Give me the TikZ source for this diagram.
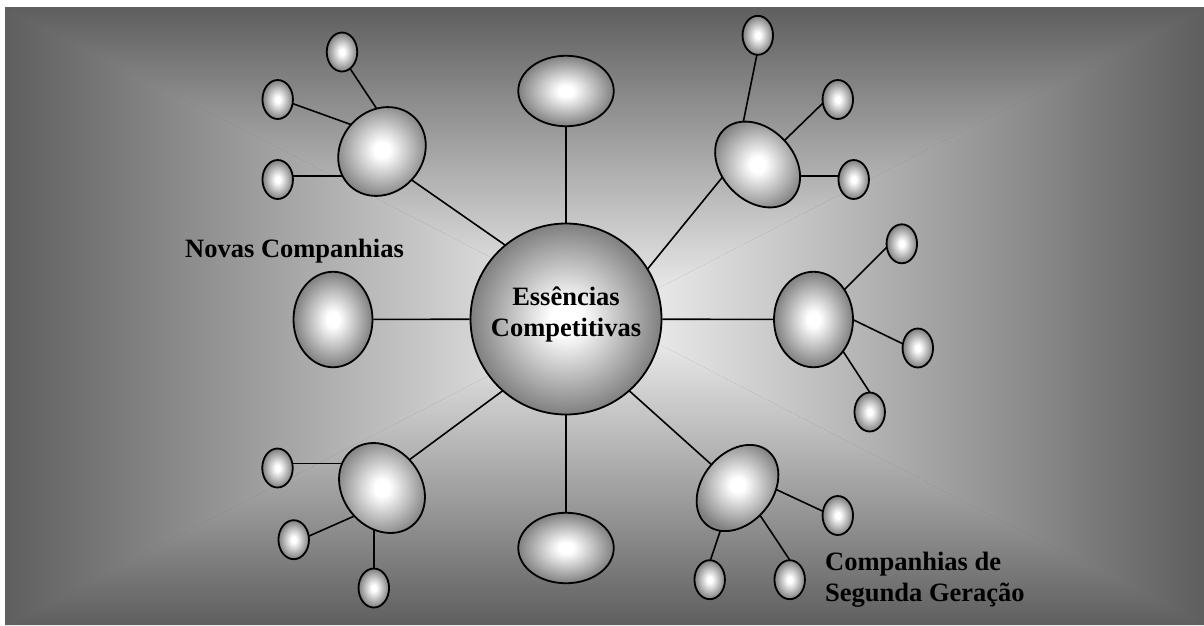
\documentclass[tikz,border=0pt]{standalone}
\usepackage{fontspec}
\setmainfont{Liberation Serif}
\usetikzlibrary{shapes.geometric}
\pgfdeclarelayer{bg}
\pgfdeclarelayer{links}
\pgfsetlayers{bg,links,main}
% glassy ball: white core fading to mid gray at the rim
\pgfdeclareradialshading{glass}{\pgfpointorigin}{color(0bp)=(white); color(4bp)=(white); color(25bp)=(black!50); color(50bp)=(black!50)}
\definecolor{edgegray}{gray}{0.37}
\definecolor{midwhite}{gray}{0.96}

\begin{document}
\begin{tikzpicture}[x=1pt,y=-1pt,
  ball/.style={ellipse, draw=black, line width=1.8pt, inner sep=0pt, shading=glass},
  leaf/.style={ball, minimum width=30.5pt, minimum height=39pt},
  link/.style={line width=1.6pt},
  caption/.style={font=\fontsize{26.5}{31}\selectfont\bfseries, inner sep=0pt},
]
\useasboundingbox (0,0) rectangle (1204,625);

% backdrop: rectangular gradient, light in the middle, dark at the rim
\begin{pgfonlayer}{bg}
  \fill[edgegray] (5,7) rectangle (1204,625);
  \shade[top color=edgegray, bottom color=midwhite] (5,7) -- (1204,7) -- (604.5,316) -- cycle;
  \shade[bottom color=edgegray, top color=midwhite] (5,625) -- (1204,625) -- (604.5,316) -- cycle;
  \shade[left color=edgegray, right color=midwhite] (5,7) -- (5,625) -- (604.5,316) -- cycle;
  \shade[right color=edgegray, left color=midwhite] (1204,7) -- (1204,625) -- (604.5,316) -- cycle;
\end{pgfonlayer}

% core
\node[ball, circle, minimum size=191pt] (C) at (566,319) {};
\node[caption, align=center] (Ctext) at (566,314) {Essências\\Competitivas};

% first ring
\node[ball, minimum width=95.5pt, minimum height=70.5pt] (T) at (566,91) {};
\node[ball, minimum width=95.5pt, minimum height=70.5pt] (B) at (566,548) {};
\node[ball, minimum width=79pt, minimum height=95.5pt] (L) at (333,319.5) {};
\node[ball, minimum width=79pt, minimum height=95.5pt] (R) at (813.5,319.5) {};
\node[ball, minimum width=82pt, minimum height=94pt, rotate=-42] (UL) at (382,151.5) {};
\node[ball, minimum width=72pt, minimum height=97pt, rotate=44] (UR) at (757.6,164.5) {};
\node[ball, minimum width=70pt, minimum height=96pt, rotate=-40] (LR) at (737.5,488) {};
\node[ball, minimum width=78.5pt, minimum height=96.5pt, rotate=38.5] (LL) at (382,488) {};

% second ring
\node[leaf] (ul1) at (342,52) {};
\node[leaf] (ul2) at (277.7,99.5) {};
\node[leaf] (ul3) at (277.7,179.5) {};
\node[leaf] (ur1) at (757.8,35.3) {};
\node[leaf] (ur2) at (837.8,99.5) {};
\node[leaf] (ur3) at (853.7,179.5) {};
\node[leaf] (r1) at (901.8,243.8) {};
\node[leaf] (r2) at (917.8,348) {};
\node[leaf] (r3) at (869.7,412) {};
\node[leaf] (lr1) at (837.8,515.5) {};
\node[leaf] (lr2) at (709.7,579.7) {};
\node[leaf] (lr3) at (789.7,579.7) {};
\node[leaf] (ll1) at (277.5,468) {};
\node[leaf] (ll2) at (293.7,539.7) {};
\node[leaf] (ll3) at (373.8,588) {};

% captions
\node[caption, anchor=base west] (newco) at (185,257) {Novas Companhias};
\node[caption, anchor=base west, align=left] (secondgen) at (825,601) {Companhias de\\Segunda Geração};

% connectors, kept behind the balls
\begin{pgfonlayer}{links}
  \draw[link] (C) -- (T);
  \draw[link] (C) -- (B);
  \draw[link] (C) -- (L);
  \draw[link] (C) -- (R);
  \draw[link] ([shift={(0,-31.5)}]C.center) -- ([shift={(0,7.8)}]UL.center);
  \draw[link] ([shift={(54,-16.2)}]C.center) -- ([shift={(0,-30.5)}]UR.center);
  \draw[link] ([shift={(0,15)}]C.center) -- (LR.center);
  \draw[link] ([shift={(0,25)}]C.center) -- ([shift={(0,-8)}]LL.center);

  \draw[link] ([shift={(0,4.4)}]ul1.center) -- ([shift={(8.8,-21.5)}]UL.center);
  \draw[link] ([shift={(0,-1.3)}]ul2.center) -- ([shift={(-12,-20.1)}]UL.center);
  \draw[link] ([shift={(0,-3.8)}]ul3.center) -- ([shift={(-22,24.2)}]UL.center);

  \draw[link] ([shift={(3,0)}]ur1.center) -- ([shift={(-20,-14.5)}]UR.center);
  \draw[link] ([shift={(-7.8,-3.3)}]ur2.center) -- ([shift={(12.4,-10)}]UR.center);
  \draw[link] ([shift={(0,-3.5)}]ur3.center) -- ([shift={(20,11.5)}]UR.center);

  \draw[link] ([shift={(-6.8,-4.8)}]r1.center) -- ([shift={(16.5,-15.5)}]R.center);
  \draw[link] ([shift={(-7.8,-0.7)}]r2.center) -- ([shift={(16.5,-11)}]R.center);
  \draw[link] ([shift={(8.3,-7)}]r3.center) -- ([shift={(15.7,10.5)}]R.center);

  \draw[link] ([shift={(-5.8,0)}]lr1.center) -- ([shift={(12.5,-10.7)}]LR.center);
  \draw[link] ([shift={(-2.6,-9.7)}]lr2.center) -- ([shift={(-8.5,17)}]LR.center);
  \draw[link] ([shift={(6.7,-9.7)}]lr3.center) -- ([shift={(12.4,12)}]LR.center);

  \draw[link] ([shift={(0,-4.7)}]ll1.center) -- ([shift={(-22,-24.7)}]LL.center);
  \draw[link] ([shift={(0,3.1)}]ll2.center) -- ([shift={(-12,21.1)}]LL.center);
  \draw[link] ([shift={(0.2,0)}]ll3.center) -- ([shift={(-8,12)}]LL.center);
\end{pgfonlayer}
\end{tikzpicture}
\end{document}
